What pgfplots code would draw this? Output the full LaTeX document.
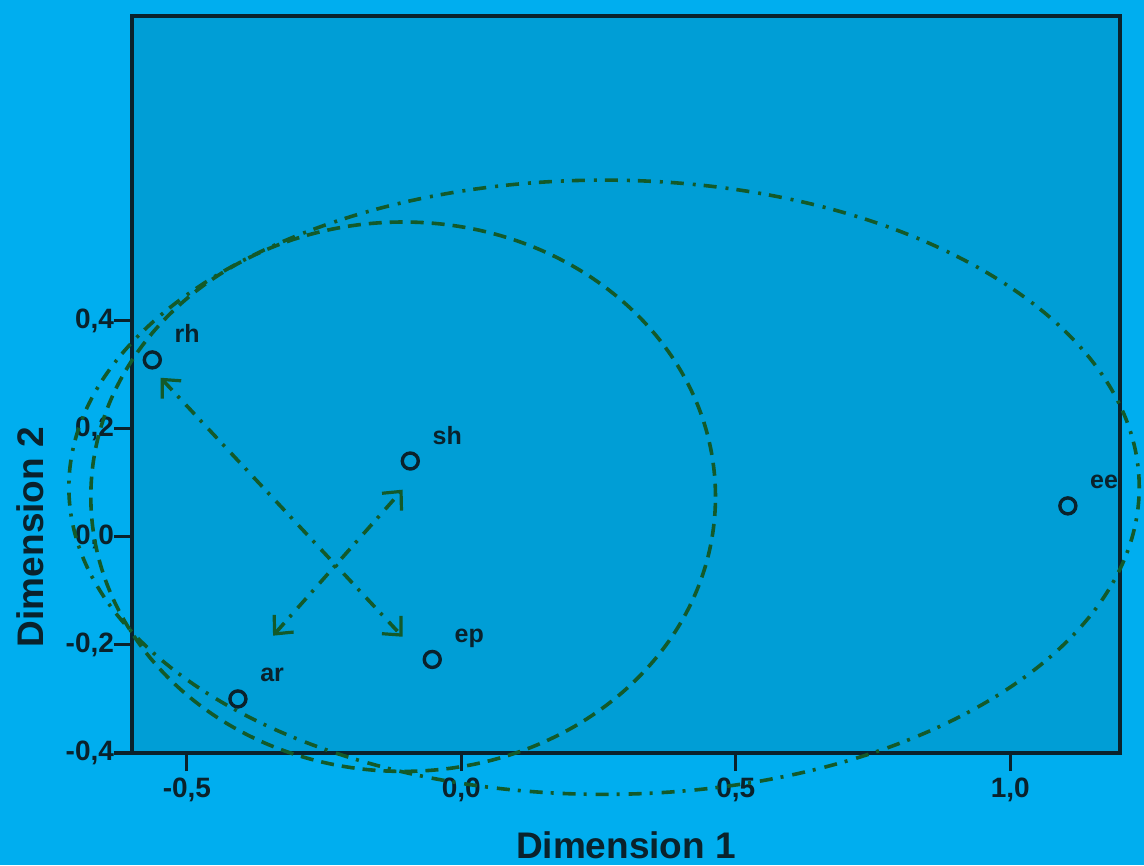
\documentclass[border=0pt]{standalone}
\usepackage{fontspec}
\setmainfont{Liberation Sans}
\usepackage{pgfplots}
\pgfplotsset{compat=1.18}
\usetikzlibrary{arrows.meta}
\definecolor{outerblue}{HTML}{00AEEF}
\definecolor{innerblue}{HTML}{009ED6}
\definecolor{axcol}{HTML}{0A222C}
\definecolor{ellgreen}{HTML}{135A2A}
\begin{document}
\begin{tikzpicture}
\fill[outerblue] (-66pt,-56pt) rectangle (506pt,376.5pt);
\begin{axis}[
  at={(0,0)}, anchor=south west,
  scale only axis, width=494pt, height=368.5pt,
  xmin=-0.6, xmax=1.2, ymin=-0.4, ymax=0.963,
  xtick={-0.5,0,0.5,1}, ytick={-0.4,-0.2,0,0.2,0.4},
  axis background/.style={fill=innerblue},
  axis line style={line width=2.2pt, color=axcol},
  tick align=outside, xtick pos=bottom, ytick pos=left,
  major tick length=9pt,
  tick style={line width=1.6pt, color=axcol},
  minor tick num=0,
  /pgf/number format/.cd, fixed, fixed zerofill, precision=1, use comma, assume math mode=true,
  /pgfplots/.cd,
  ticklabel style={font=\bfseries\fontsize{14}{14}\selectfont, text=axcol},
  yticklabel style={xshift=3.5pt},
  xlabel={Dimension 1}, ylabel={Dimension 2},
  label style={font=\bfseries\fontsize{18.5}{18.5}\selectfont, text=axcol},
  xlabel style={at={(axis description cs:0.5,-0.125)}, anchor=center},
  ylabel style={at={(axis description cs:-0.103,0.293)}, anchor=center, rotate=0},
  clip=false,
]
% ellipses
\draw[ellgreen, line width=1.8pt, dash pattern=on 6.5pt off 4pt]
  (axis cs:-0.106,0.074) ellipse [x radius=0.569, y radius=0.508];
\draw[ellgreen, line width=1.8pt, dash pattern=on 6.5pt off 4pt on 1.5pt off 4.5pt]
  (axis cs:0.260,0.0915) ellipse [x radius=0.975, y radius=0.568];
% arrows
\addplot[ellgreen, line width=1.8pt, dash pattern=on 6.5pt off 4pt on 1.5pt off 4.5pt,
  {Straight Barb[length=7pt,width=13pt,line width=1.6pt]}-{Straight Barb[length=7pt,width=13pt,line width=1.6pt]}]
  coordinates {(-0.548,0.294) (-0.107,-0.185)};
\addplot[ellgreen, line width=1.8pt, dash pattern=on 6.5pt off 4pt on 1.5pt off 4.5pt,
  {Straight Barb[length=7pt,width=13pt,line width=1.6pt]}-{Straight Barb[length=7pt,width=13pt,line width=1.6pt]}]
  coordinates {(-0.343,-0.183) (-0.107,0.087)};
% points
\addplot[only marks, mark=o, mark size=4pt, line width=1.7pt, color=axcol,
  point meta=explicit symbolic, nodes near coords,
  nodes near coords style={anchor=base west, xshift=7pt, yshift=8.5pt,
    font=\bfseries\fontsize{12.5}{12.5}\selectfont, text=axcol}]
  coordinates {
    (-0.563,0.327) [rh]
    (-0.093,0.140) [sh]
    (1.105,0.057) [ee]
    (-0.053,-0.227) [ep]
    (-0.407,-0.300) [ar]
  };
\end{axis}
\end{tikzpicture}
\end{document}
